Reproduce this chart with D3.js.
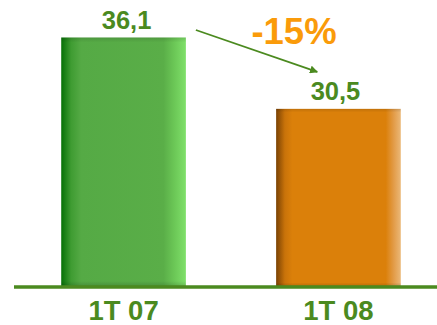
<!DOCTYPE html>
<html>
<head>
<meta charset="utf-8">
<script src="https://cdn.jsdelivr.net/npm/d3@7"></script>
<style>
  html, body { margin: 0; padding: 0; background: #fff; }
  svg { display: block; }
</style>
</head>
<body>
<div id="chart"></div>
<script>
// quarterly values, 1T 07 vs 1T 08
const categories = ['1T 07', '1T 08'];
const values = [36.1, 30.5];
const valueLabels = ['36,1', '30,5'];
const changeLabel = '-15%';

const width = 437, height = 325;
const green = '#4b8a1f';

const svg = d3.select('#chart').append('svg')
    .attr('width', width)
    .attr('height', height);

const x = d3.scaleBand()
    .domain(categories)
    .range([7.5, 454.5])
    .paddingInner(0.42)
    .paddingOuter(0.25);

// axis does not start at zero in the original
const y = d3.scaleLinear()
    .domain([16.6, 36.1])
    .range([286, 37.5]);

const defs = svg.append('defs');

function barGradient(id, stops) {
    const g = defs.append('linearGradient')
        .attr('id', id)
        .attr('x1', '0%').attr('x2', '100%')
        .attr('y1', '0%').attr('y2', '0%');
    stops.forEach(s => g.append('stop').attr('offset', s[0]).attr('stop-color', s[1]));
}
barGradient('gGreen', [
    ['0%', '#067006'], ['8%', '#3f9c32'], ['16%', '#55aa45'],
    ['82%', '#5aae48'], ['91%', '#6cc857'], ['100%', '#7fe06a']
]);
barGradient('gOrange', [
    ['0%', '#7a4203'], ['7%', '#c9730a'], ['13%', '#db800a'],
    ['88%', '#db800a'], ['94%', '#e29a45'], ['100%', '#ebb878']
]);
// soft shade at the top and bottom edge
const vShade = defs.append('linearGradient')
    .attr('id', 'vShade')
    .attr('x1', '0%').attr('x2', '0%')
    .attr('y1', '0%').attr('y2', '100%');
vShade.append('stop').attr('offset', '0%').attr('stop-color', '#000').attr('stop-opacity', 0.12);
vShade.append('stop').attr('offset', '2%').attr('stop-color', '#000').attr('stop-opacity', 0);
vShade.append('stop').attr('offset', '98%').attr('stop-color', '#000').attr('stop-opacity', 0);
vShade.append('stop').attr('offset', '100%').attr('stop-color', '#000').attr('stop-opacity', 0.15);

const fills = ['url(#gGreen)', 'url(#gOrange)'];

const bars = svg.append('g').selectAll('g')
    .data(values)
    .join('g');

bars.append('rect')
    .attr('x', (d, i) => x(categories[i]))
    .attr('y', d => y(d))
    .attr('width', x.bandwidth())
    .attr('height', d => y.range()[0] - y(d))
    .attr('fill', (d, i) => fills[i]);

bars.append('rect')
    .attr('x', (d, i) => x(categories[i]))
    .attr('y', d => y(d))
    .attr('width', x.bandwidth())
    .attr('height', d => y.range()[0] - y(d))
    .attr('fill', 'url(#vShade)');

// baseline
svg.append('line')
    .attr('x1', 14).attr('x2', width)
    .attr('y1', 287).attr('y2', 287)
    .attr('stroke', green)
    .attr('stroke-width', 3.5);

// value labels
const labelShift = [3, -3];
svg.append('g').selectAll('text')
    .data(values)
    .join('text')
    .attr('x', (d, i) => x(categories[i]) + x.bandwidth() / 2 + labelShift[i])
    .attr('y', d => y(d) - 8.5)
    .attr('text-anchor', 'middle')
    .attr('font-family', 'Liberation Sans, Arial, sans-serif')
    .attr('font-weight', 'bold')
    .attr('font-size', 25.5)
    .attr('fill', green)
    .text((d, i) => valueLabels[i]);

// category labels
svg.append('g').selectAll('text')
    .data(categories)
    .join('text')
    .attr('x', d => x(d) + x.bandwidth() / 2)
    .attr('y', 319.5)
    .attr('text-anchor', 'middle')
    .attr('font-family', 'Liberation Sans, Arial, sans-serif')
    .attr('font-weight', 'bold')
    .attr('font-size', 27.5)
    .attr('fill', green)
    .text(d => d);

// change arrow
defs.append('marker')
    .attr('id', 'arrowHead')
    .attr('viewBox', '0 0 10 10')
    .attr('refX', 9).attr('refY', 5)
    .attr('markerWidth', 4.5).attr('markerHeight', 4.5)
    .attr('orient', 'auto')
    .append('path')
    .attr('d', 'M0,0 L10,5 L0,10 Z')
    .attr('fill', green);

const x0 = x(categories[0]) + x.bandwidth() + 10;
const x1 = x(categories[1]) + x.bandwidth() * 0.33;
svg.append('line')
    .attr('x1', x0).attr('y1', y(values[0]) - 7.5)
    .attr('x2', x1).attr('y2', y(values[1]) - 37)
    .attr('stroke', green)
    .attr('stroke-width', 1.8)
    .attr('marker-end', 'url(#arrowHead)');

svg.append('text')
    .attr('x', 294)
    .attr('y', 43.5)
    .attr('text-anchor', 'middle')
    .attr('font-family', 'Liberation Sans, Arial, sans-serif')
    .attr('font-weight', 'bold')
    .attr('font-size', 36.5)
    .attr('fill', '#fa9b0a')
    .text(changeLabel);
</script>
</body>
</html>
